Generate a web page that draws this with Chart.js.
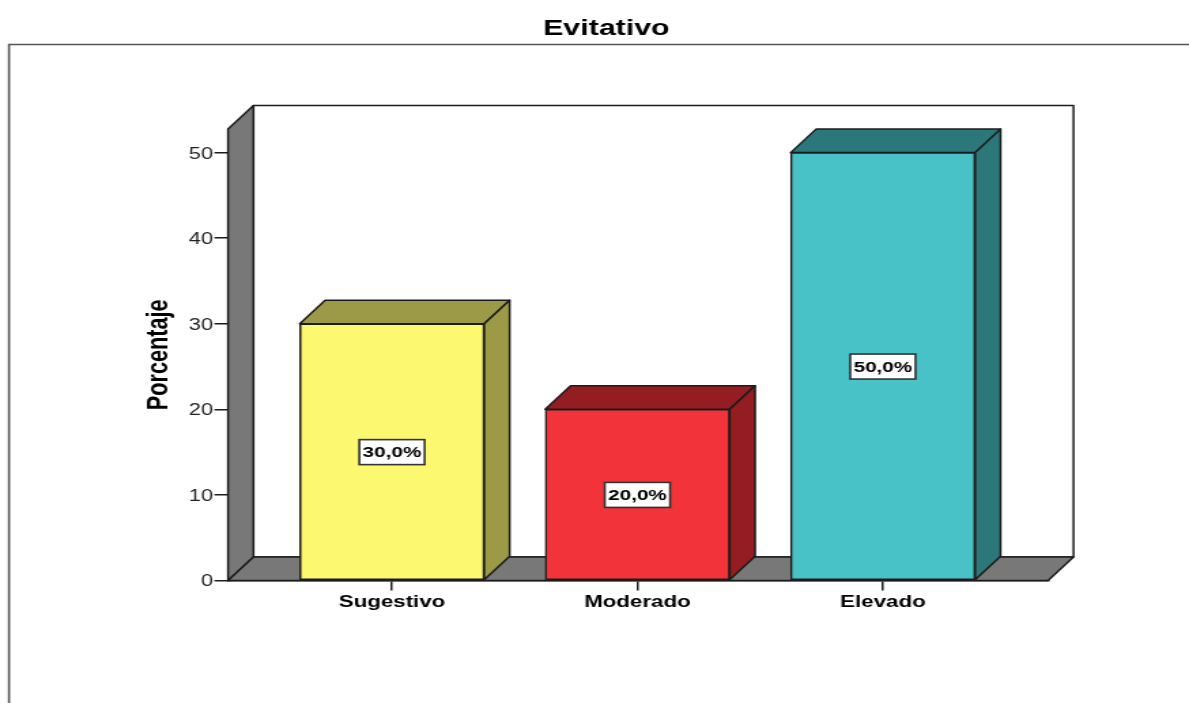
<!DOCTYPE html>
<html>
<head>
<meta charset="utf-8">
<title>Evitativo</title>
<script src="https://cdn.jsdelivr.net/npm/chart.js@4"></script>
<style>
    html, body { margin: 0; padding: 0; background: #fff; overflow: hidden; }
    #chart { display: block; filter: blur(0.6px); }
</style>
</head>
<body>
<!-- the original picture is stretched sideways and soft, so the canvas is too -->
<canvas id="chart" width="874" height="703" style="width:1189px;height:703px"></canvas>
<script>
// 데이터
const categories = ['Sugestivo', 'Moderado', 'Elevado'];
const percentages = [30, 20, 50];
const frontColors = ['#fcf870', '#f23339', '#48c2c6'];
const depthColors = ['#9c9a46', '#931d21', '#2c777a'];

const yTitle = 'Porcentaje';
const chartTitle = 'Evitativo';

// 3D 깊이
const depthX = 18.7;
const depthY = 23.5;
const lineColor = '#1c1c1c';
const wallColor = '#787878';

function polygon(ctx, points, fill) {
    ctx.beginPath();
    points.forEach((p, i) => i ? ctx.lineTo(p[0], p[1]) : ctx.moveTo(p[0], p[1]));
    ctx.closePath();
    ctx.fillStyle = fill;
    ctx.fill();
    ctx.stroke();
}

// 바깥 프레임, 벽, 바닥, 막대 옆면
const boxPlugin = {
    id: 'box3d',
    beforeDatasetsDraw(chart) {
        const ctx = chart.ctx;
        const { left, right, top, bottom } = chart.chartArea;
        ctx.save();

        ctx.strokeStyle = '#555';
        ctx.lineWidth = 1.6;
        ctx.beginPath();
        ctx.moveTo(6.6, chart.height);
        ctx.lineTo(6.6, 44.5);
        ctx.lineTo(chart.width, 44.5);
        ctx.stroke();

        ctx.strokeStyle = lineColor;
        ctx.lineWidth = 1.5;
        ctx.lineJoin = 'round';
        polygon(ctx, [[left + depthX, top - depthY], [right + depthX, top - depthY],
            [right + depthX, bottom - depthY], [left + depthX, bottom - depthY]], '#fff');
        polygon(ctx, [[left, bottom], [left, top], [left + depthX, top - depthY], [left + depthX, bottom - depthY]], wallColor);
        polygon(ctx, [[left, bottom], [right, bottom], [right + depthX, bottom - depthY], [left + depthX, bottom - depthY]], wallColor);

        chart.getDatasetMeta(0).data.forEach((bar, i) => {
            const x0 = bar.x - bar.width / 2;
            const x1 = bar.x + bar.width / 2;
            polygon(ctx, [[x0, bar.y], [x1, bar.y], [x1 + depthX, bar.y - depthY], [x0 + depthX, bar.y - depthY]], depthColors[i]);
            polygon(ctx, [[x1, bar.y], [x1, bar.base], [x1 + depthX, bar.base - depthY], [x1 + depthX, bar.y - depthY]], depthColors[i]);
        });
        ctx.restore();
    },
    // 값 라벨
    afterDatasetsDraw(chart) {
        const ctx = chart.ctx;
        const yScale = chart.scales.y;
        ctx.save();
        chart.getDatasetMeta(0).data.forEach((bar, i) => {
            const cy = yScale.getPixelForValue(percentages[i] / 2);
            const w = 48;
            const h = 25;
            ctx.fillStyle = '#fff';
            ctx.strokeStyle = '#333';
            ctx.lineWidth = 1.6;
            ctx.fillRect(bar.x - w / 2, cy - h / 2, w, h);
            ctx.strokeRect(bar.x - w / 2, cy - h / 2, w, h);
            ctx.fillStyle = '#000';
            ctx.font = 'bold 15.2px "Liberation Sans"';
            ctx.textAlign = 'center';
            ctx.textBaseline = 'middle';
            ctx.fillText(percentages[i].toFixed(1).replace('.', ',') + '%', bar.x, cy + 1);
        });
        ctx.restore();
    }
};

new Chart(document.getElementById('chart'), {
    type: 'bar',
    data: {
        datasets: [{
            data: percentages.map((v, i) => ({ x: i, y: v })),
            backgroundColor: frontColors,
            borderColor: lineColor,
            borderWidth: 1.5,
            borderSkipped: false,
            barThickness: 135.6
        }]
    },
    options: {
        responsive: false,
        maintainAspectRatio: false,
        animation: false,
        layout: {
            autoPadding: false,
            padding: { left: 121, right: 103.6, top: 0, bottom: 0 }
        },
        plugins: {
            legend: { display: false },
            tooltip: { enabled: false },
            title: {
                display: true,
                text: chartTitle,
                color: '#000',
                font: { family: '"Liberation Sans"', size: 22.3, weight: 'bold' },
                padding: { top: 15, bottom: 87.3 }
            }
        },
        scales: {
            x: {
                type: 'linear',
                offset: false,
                min: -0.668,
                max: 2.673,
                afterFit: scale => { scale.height = 122.5; },
                grid: { offset: false, drawOnChartArea: false, tickLength: 10, color: lineColor, lineWidth: 1.5 },
                border: { color: lineColor, width: 1.5 },
                ticks: {
                    stepSize: 1,
                    includeBounds: false,
                    autoSkip: false,
                    maxRotation: 0,
                    padding: 2,
                    color: '#000',
                    font: { family: '"Liberation Sans"', size: 16.4, weight: 'bold' },
                    callback: value => categories[value] ?? ''
                }
            },
            y: {
                min: 0,
                max: 52.75,
                afterFit: scale => { scale.width = 46.6; },
                grid: { drawOnChartArea: false, tickLength: 10, color: lineColor, lineWidth: 1.5 },
                border: { color: lineColor, width: 1.5 },
                title: {
                    display: true,
                    text: yTitle,
                    color: '#000',
                    font: { family: '"Liberation Sans"', size: 21.7, weight: 'bold' },
                    padding: { top: -16.5, bottom: 0 }
                },
                ticks: {
                    stepSize: 10,
                    includeBounds: false,
                    padding: 1,
                    labelOffset: 1.5,
                    color: '#222',
                    font: { family: '"Liberation Sans"', size: 16 }
                }
            }
        }
    },
    plugins: [boxPlugin]
});
</script>
</body>
</html>
